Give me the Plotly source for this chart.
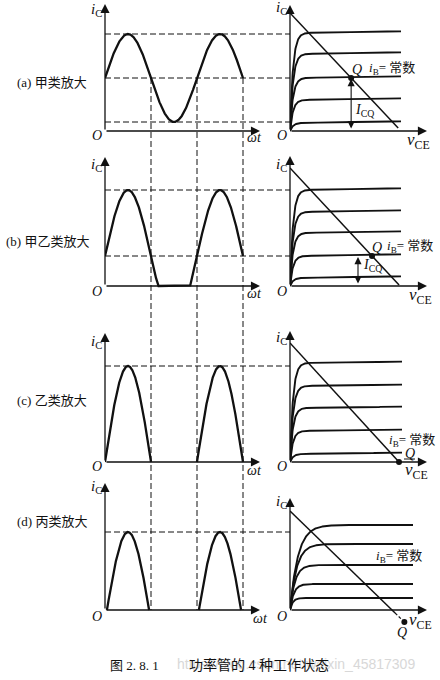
import numpy as np
import plotly.graph_objects as go

W, H = 440, 680

# ---------------- data ----------------
row_labels = ["(a) 甲类放大", "(b) 甲乙类放大", "(c) 乙类放大", "(d) 丙类放大"]
# left panels: i_C(ωt) = Q + A·sin(ωt), cut off at zero
q_level = [53, 30, 0, -12]
amplitude = [44, 66, 96, 90]
show_cutoff_flat = [True, True, False, False]
# right panels: output characteristics (i_B = const)
curve_levels = [[98, 77, 53, 31, 8],
                [96, 74, 53, 30, 8],
                [99, 76, 54, 31, 8],
                [85, 66, 45, 26, 12]]
knee_v0 = [[3, 3, 3, 3, 3],
           [3, 3, 3, 3, 3],
           [3, 3, 3, 3, 3],
           [8, 6.6, 5, 3.8, 2.8]]
curve_slope = [0.015, 0.015, 0.012, 0.0]
curve_end_v = [111, 111, 112, 123]
# load line: i-axis intercept, v-axis intercept, end of the solid part (i)
load_i0 = [118, 118, 119, 99]
load_vint = [111, 110, 109, 102]
load_solid_end_i = [3, 1, 0, -3]
icq_arrow_v = [None, 68, None, None]      # None -> at Q
left_axis_top = [127, 129, 129, 127]
right_axis_top = [126, 130, 131, 112]
wt_axis_end = 3.37 * np.pi
vce_axis_end = 137
cut_lines_wt = [np.pi, 2 * np.pi, 3 * np.pi]

# ---------------- layout geometry ----------------
YR = [-18, 130]
LX = [0, 3.6 * np.pi]
RX = [0, 150]
base_px = [131, 286, 462, 610]
left_px = (105, 105 + 3.6 * 46)
right_px = (290, 440)

def ydom(r):
    top = base_px[r] - YR[1]
    bot = base_px[r] - YR[0]
    return [1 - bot / H, 1 - top / H]

def ypaper(r, val):
    d = ydom(r)
    return d[0] + (val - YR[0]) / (YR[1] - YR[0]) * (d[1] - d[0])

def P(px, py):
    return px / W, 1 - py / H

SERIF = "Liberation Serif, Noto Sans CJK SC, serif"
CJK = "Liberation Serif, Noto Sans CJK SC, sans-serif"
BLACK = "#111111"

fig = go.Figure()
layout = dict(width=W, height=H, margin=dict(l=0, r=0, t=0, b=0),
              paper_bgcolor="white", plot_bgcolor="rgba(0,0,0,0)",
              showlegend=False)
annotations = []
shapes = []

def axname(n):
    return ("x" if n == 1 else f"x{n}"), ("y" if n == 1 else f"y{n}")

def arrow(xr, yr, x, y, ax, ay, both=False, width=1.3, size=1.4):
    annotations.append(dict(xref=xr, yref=yr, axref=xr, ayref=yr,
                            x=x, y=y, ax=ax, ay=ay, text="", showarrow=True,
                            arrowhead=2, arrowsize=size, arrowwidth=width,
                            arrowcolor=BLACK,
                            arrowside="end+start" if both else "end"))

def label(px, py, text, size=14, font=SERIF, color=BLACK):
    x, y = P(px, py)
    annotations.append(dict(xref="paper", yref="paper", x=x, y=y, text=text,
                            showarrow=False, xanchor="center", yanchor="middle",
                            font=dict(family=font, size=size, color=color)))

for r in range(4):
    nl, nr = 2 * r + 1, 2 * r + 2
    xl, yl = axname(nl)
    xr, yr = axname(nr)
    for n, xrange_, xpx in ((nl, LX, left_px), (nr, RX, right_px)):
        key = "" if n == 1 else str(n)
        layout["xaxis" + key] = dict(domain=[xpx[0] / W, xpx[1] / W], range=xrange_,
                                     visible=False, anchor="y" + key if n > 1 else "y",
                                     fixedrange=True)
        layout["yaxis" + key] = dict(domain=ydom(r), range=YR, visible=False,
                                     anchor="x" + key if n > 1 else "x", fixedrange=True)

    # ---- left: collector current waveform ----
    th = np.linspace(0, 3 * np.pi, 1500)
    ic = q_level[r] + amplitude[r] * np.sin(th)
    icc = np.maximum(ic, 0.0)
    if not show_cutoff_flat[r]:
        neg = ic <= 0
        inner = neg & np.roll(neg, 1) & np.roll(neg, -1)
        inner[0] = False
        inner[-1] = False
        icc = np.where(inner, np.nan, icc)
    fig.add_trace(go.Scatter(x=th, y=icc, mode="lines", xaxis=xl, yaxis=yl,
                             line=dict(color=BLACK, width=2.3), hoverinfo="skip",
                             connectgaps=False))

    # ---- right: output characteristics ----
    for L, v0 in zip(curve_levels[r], knee_v0[r]):
        v = np.linspace(0, curve_end_v[r], 400)
        i = L * (1 - np.exp(-v / v0)) + curve_slope[r] * v
        fig.add_trace(go.Scatter(x=v, y=i, mode="lines", xaxis=xr, yaxis=yr,
                                 line=dict(color=BLACK, width=1.9), hoverinfo="skip"))
    # load line
    v_solid = load_vint[r] * (1 - load_solid_end_i[r] / load_i0[r])
    fig.add_trace(go.Scatter(x=[0, v_solid], y=[load_i0[r], load_solid_end_i[r]],
                             mode="lines", xaxis=xr, yaxis=yr,
                             line=dict(color=BLACK, width=1.5), hoverinfo="skip"))
    vq = load_vint[r] * (1 - q_level[r] / load_i0[r])
    if q_level[r] < load_solid_end_i[r]:
        fig.add_trace(go.Scatter(x=[v_solid, vq], y=[load_solid_end_i[r], q_level[r]],
                                 mode="lines", xaxis=xr, yaxis=yr,
                                 line=dict(color=BLACK, width=1.2, dash="3px,2px"),
                                 hoverinfo="skip"))
    fig.add_trace(go.Scatter(x=[vq], y=[q_level[r]], mode="markers", xaxis=xr, yaxis=yr,
                             marker=dict(color=BLACK, size=6), cliponaxis=False,
                             hoverinfo="skip"))
    # I_CQ arrow
    if q_level[r] > 0:
        va = icq_arrow_v[r] if icq_arrow_v[r] is not None else vq
        arrow(xr, yr, va, q_level[r] - 1, va, 1, both=True, width=1.1, size=1.3)

    # ---- axes ----
    arrow(xl, yl, 0, left_axis_top[r], 0, 0)
    arrow(xl, yl, wt_axis_end, 0, 0, 0)
    arrow(xr, yr, 0, right_axis_top[r], 0, 0)
    arrow(xr, yr, vce_axis_end, 0, 0, 0)

    # ---- horizontal guide lines (left panel -> right panel) ----
    levels = [q_level[r] + amplitude[r]]
    if q_level[r] > 0:
        levels.append(q_level[r])
    if q_level[r] - amplitude[r] > 0:
        levels.append(q_level[r] - amplitude[r])
    for lv in levels:
        shapes.append(dict(type="line", xref="paper", yref=yl,
                           x0=left_px[0] / W, x1=right_px[0] / W, y0=lv, y1=lv,
                           line=dict(color=BLACK, width=1, dash="6px,3px"),
                           layer="below"))

# vertical guide lines across all panels
for wt in cut_lines_wt:
    shapes.append(dict(type="line", xref="x", yref="paper", x0=wt, x1=wt,
                       y0=ypaper(0, q_level[0]), y1=ypaper(3, 0),
                       line=dict(color=BLACK, width=1, dash="6px,3px"),
                       layer="below"))

# Q leader line in (c)
shapes.append(dict(type="line", xref="x6", yref="y6", x0=114, x1=125, y0=3, y1=3,
                   line=dict(color=BLACK, width=1)))

# ---------------- text ----------------
row_label_pos = [(52, 82), (47, 241), (52, 400), (52, 521)]
ic_left_y = [10, 165, 342, 487]
ic_right_y = [8, 165, 338, 502]
o_y = [136, 291, 466, 616]
wt_pos = [(254, 138), (254, 293), (254, 470), (260, 618)]
vce_pos = [(418, 141), (420, 296), (416, 471), (420, 621)]
q_lab = [(357, 70), (377, 247), (410, 453), (402, 632)]
ib_lab = [(392, 69), (410, 246), (412, 440), (399, 556)]
icq_lab = [(364, 111), (372, 266), None, None]

for r in range(4):
    label(*row_label_pos[r], row_labels[r], size=13, font=CJK)
    label(96, ic_left_y[r], "<i>i</i><sub>C</sub>", size=15)
    label(281, ic_right_y[r], "<i>i</i><sub>C</sub>", size=15)
    label(97, o_y[r], "<i>O</i>", size=14)
    label(282, o_y[r], "<i>O</i>", size=14)
    label(*wt_pos[r], "<i>ωt</i>", size=14)
    label(*vce_pos[r], "<i>v</i><sub>CE</sub>", size=17)
    label(*q_lab[r], "<i>Q</i>", size=14)
    label(*ib_lab[r], "<i>i</i><sub>B</sub>= 常数", size=13, font=CJK)
    if icq_lab[r] is not None:
        label(*icq_lab[r], "<i>I</i><sub>CQ</sub>", size=14)

# watermark and caption
label(296, 664, "https://blog.csdn.net/weixin_45817309", size=14,
      font="Liberation Sans, Arial, sans-serif", color="#d8d8d8")
label(134, 665, "图 2. 8. 1", size=13, font=CJK)
label(259, 665, "功率管的 4 种工作状态", size=14, font=CJK)

layout["annotations"] = annotations
layout["shapes"] = shapes
fig.update_layout(**layout)
fig.write_html("out.html", config={"displayModeBar": False},
               post_script="document.body.style.margin='0';document.body.style.overflow='hidden';")
